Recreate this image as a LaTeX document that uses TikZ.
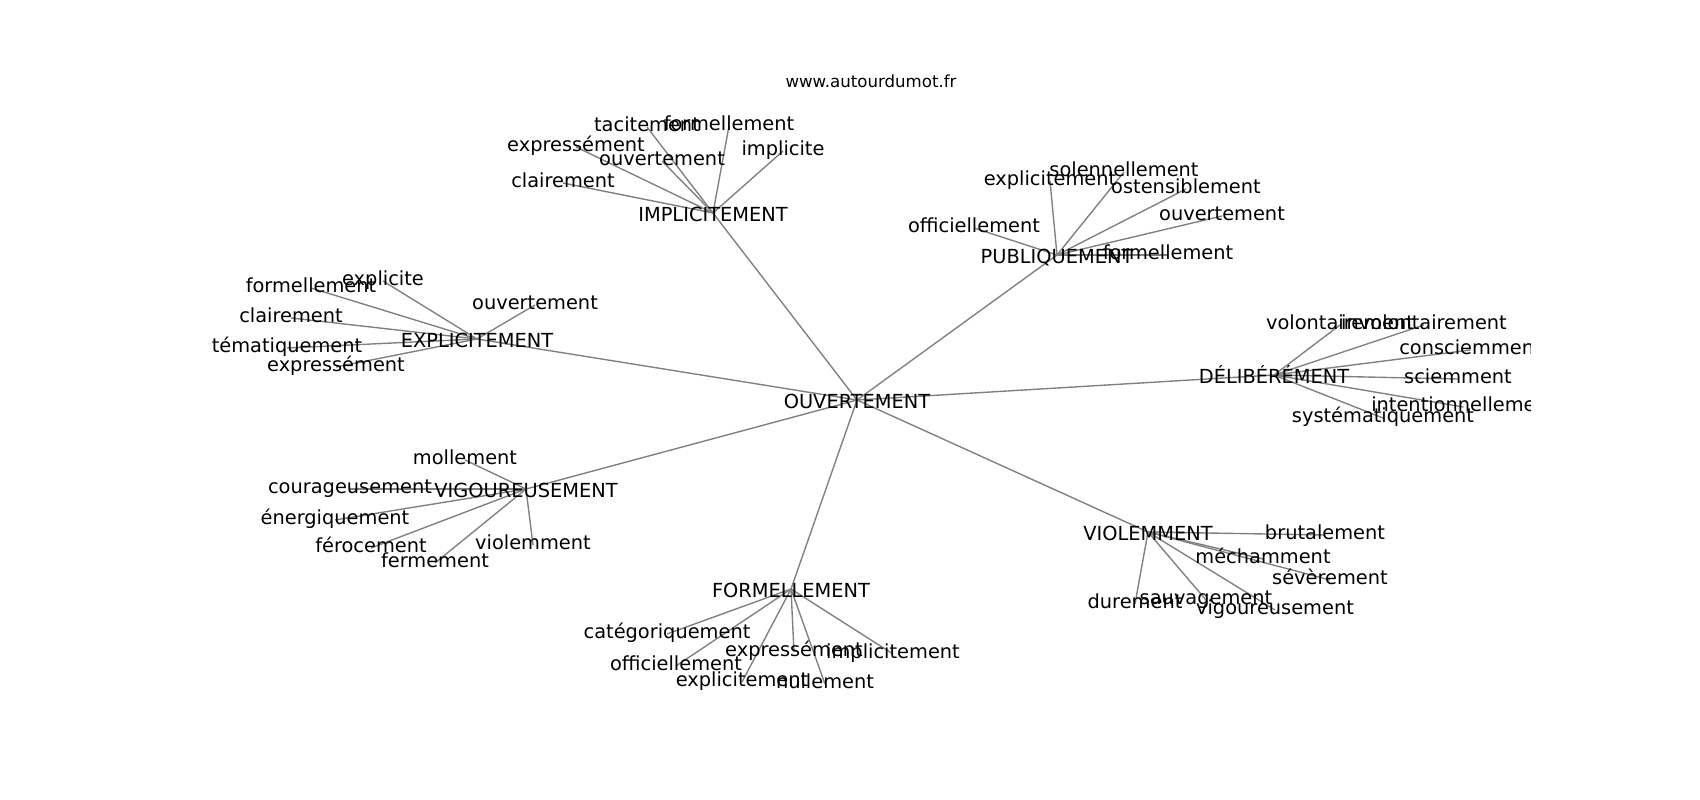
\documentclass[tikz,border=0pt]{standalone}
\usepackage{fontspec}
\setmainfont{DejaVu Sans}
\pgfdeclarelayer{bg}
\pgfsetlayers{bg,main}
\definecolor{edgegray}{RGB}{128,128,128}
\begin{document}
\begin{tikzpicture}[x=0.01in, y=-0.01in,
  lbl/.style={font=\fontsize{14}{16}\selectfont, inner sep=0pt, text height=10.6pt, text depth=3.4pt},
  hub/.style={lbl, text height=13pt, text depth=1.4pt},
  ttl/.style={font=\fontsize{12}{14}\selectfont, inner sep=0pt},
  edge/.style={draw=edgegray, line width=1pt}]
\useasboundingbox (0,0) rectangle (1700,800);
\node[ttl, anchor=base] (title) at (871,88) {www.autourdumot.fr};
\begin{scope}
\clip (212.5,96) rectangle (1530,712);
% hubs
\node[hub] (o)   at (857,400) {OUVERTEMENT};
\node[hub] (imp) at (713,213) {IMPLICITEMENT};
\node[hub] (pub) at (1057,255) {PUBLIQUEMENT};
\node[hub] (exp) at (477,339) {EXPLICITEMENT};
\node[hub] (del) at (1274,375) {DÉLIBÉRÉMENT};
\node[hub] (vig) at (526,489) {VIGOUREUSEMENT};
\node[hub] (vio) at (1148,532) {VIOLEMMENT};
\node[hub] (frm) at (791,589) {FORMELLEMENT};
% IMPLICITEMENT leaves
\node[lbl] (i1) at (647,127) {tacitement};
\node[lbl] (i2) at (729,126) {formellement};
\node[lbl] (i3) at (576,147) {expressément};
\node[lbl] (i4) at (662,161) {ouvertement};
\node[lbl] (i5) at (783,151) {implicite};
\node[lbl] (i6) at (563,183) {clairement};
% PUBLIQUEMENT leaves
\node[lbl] (p1) at (1050,181) {explicitement};
\node[lbl] (p2) at (1124,172) {solennellement};
\node[lbl] (p3) at (1186,189) {ostensiblement};
\node[lbl] (p4) at (1222,216) {ouvertement};
\node[lbl] (p5) at (974,228) {officiellement};
\node[lbl] (p6) at (1168,255) {formellement};
% EXPLICITEMENT leaves
\node[lbl] (e1) at (311,288) {formellement};
\node[lbl] (e2) at (383,281) {explicite};
\node[lbl] (e3) at (535,305) {ouvertement};
\node[lbl] (e4) at (291,318) {clairement};
\node[lbl] (e5) at (287,348) {tématiquement};
\node[lbl] (e6) at (336,367) {expressément};
% DELIBEREMENT leaves
\node[lbl] (d1) at (1340,325) {volontairement};
\node[lbl] (d2) at (1424,325) {involontairement};
\node[lbl, anchor=west] (d3) at (1399,350) {consciemment};
\node[lbl] (d4) at (1458,379) {sciemment};
\node[lbl, anchor=west] (d5) at (1371,407) {intentionnellement};
\node[lbl] (d6) at (1383,418) {systématiquement};
% VIGOUREUSEMENT leaves
\node[lbl] (v1) at (465,460) {mollement};
\node[lbl] (v2) at (350,489) {courageusement};
\node[lbl] (v3) at (335,520) {énergiquement};
\node[lbl] (v4) at (371,548) {férocement};
\node[lbl] (v5) at (435,563) {fermement};
\node[lbl] (v6) at (533,545) {violemment};
% VIOLEMMENT leaves
\node[lbl] (w1) at (1325,535) {brutalement};
\node[lbl] (w2) at (1263,559) {méchamment};
\node[lbl] (w3) at (1330,580) {sévèrement};
\node[lbl] (w4) at (1135,604) {durement};
\node[lbl] (w5) at (1206,600) {sauvagement};
\node[lbl] (w6) at (1275,610) {vigoureusement};
% FORMELLEMENT leaves
\node[lbl] (f1) at (667,634) {catégoriquement};
\node[lbl] (f2) at (676,666) {officiellement};
\node[lbl] (f3) at (794,652) {expressément};
\node[lbl] (f4) at (893,654) {implicitement};
\node[lbl] (f5) at (742,682) {explicitement};
\node[lbl] (f6) at (825,684) {nullement};
\end{scope}
\begin{pgfonlayer}{bg}
\foreach \a/\b in {o/imp,o/pub,o/exp,o/del,o/vig,o/vio,o/frm,
  imp/i1,imp/i2,imp/i3,imp/i4,imp/i5,imp/i6,
  pub/p1,pub/p2,pub/p3,pub/p4,pub/p5,pub/p6,
  exp/e1,exp/e2,exp/e3,exp/e4,exp/e5,exp/e6,
  del/d1,del/d2,del/d3,del/d4,del/d5,del/d6,
  vig/v1,vig/v2,vig/v3,vig/v4,vig/v5,vig/v6,
  vio/w1,vio/w2,vio/w3,vio/w4,vio/w5,vio/w6,
  frm/f1,frm/f2,frm/f3,frm/f4,frm/f5,frm/f6}
  \draw[edge] (\a.center) -- (\b.center);
\end{pgfonlayer}
\end{tikzpicture}
\end{document}
